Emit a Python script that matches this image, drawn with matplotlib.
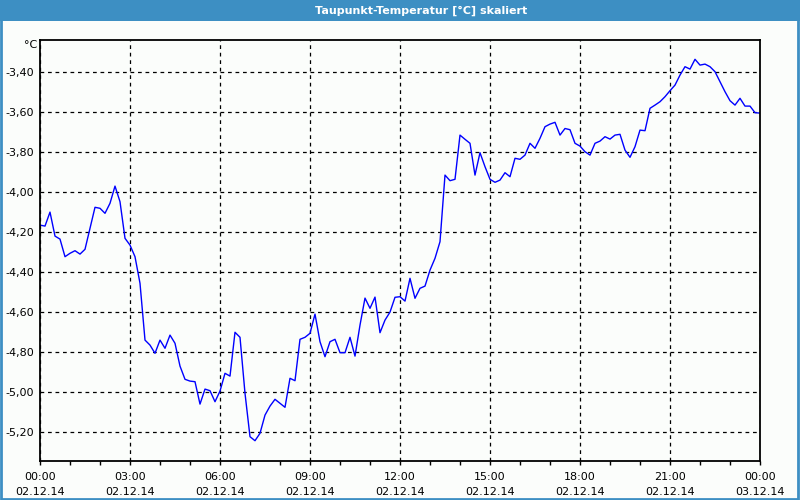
import numpy as np
import pandas as pd
import matplotlib
matplotlib.use("Agg")
from matplotlib import pyplot as plt
import matplotlib.dates as mdates
from matplotlib.ticker import FuncFormatter, MultipleLocator
from matplotlib.patches import Rectangle

# Taupunkt in 10-Minuten-Schritten, 02.12.14 00:00 .. 03.12.14 00:00
dewpoint = [
    -4.164, -4.169, -4.099, -4.219, -4.234, -4.322, -4.305, -4.292, -4.309, -4.285,
    -4.180, -4.075, -4.080, -4.105, -4.055, -3.969, -4.047, -4.230, -4.264, -4.322,
    -4.455, -4.739, -4.764, -4.805, -4.739, -4.780, -4.714, -4.755, -4.869, -4.935,
    -4.944, -4.947, -5.059, -4.984, -4.992, -5.047, -4.994, -4.905, -4.919, -4.700,
    -4.725, -5.005, -5.222, -5.242, -5.205, -5.114, -5.069, -5.035, -5.055, -5.075,
    -4.930, -4.942, -4.735, -4.725, -4.705, -4.609, -4.747, -4.822, -4.747, -4.735,
    -4.802, -4.802, -4.725, -4.819, -4.664, -4.529, -4.580, -4.524, -4.702, -4.639,
    -4.599, -4.525, -4.522, -4.544, -4.430, -4.530, -4.480, -4.469, -4.389, -4.330,
    -4.247, -3.914, -3.942, -3.935, -3.714, -3.735, -3.755, -3.914, -3.802, -3.872,
    -3.935, -3.950, -3.939, -3.902, -3.922, -3.830, -3.835, -3.814, -3.755, -3.780,
    -3.730, -3.672, -3.659, -3.650, -3.714, -3.681, -3.687, -3.755, -3.769, -3.797,
    -3.814, -3.755, -3.744, -3.722, -3.734, -3.714, -3.710, -3.789, -3.825, -3.772,
    -3.689, -3.692, -3.580, -3.564, -3.547, -3.522, -3.492, -3.464, -3.414, -3.372,
    -3.384, -3.335, -3.364, -3.359, -3.372, -3.397, -3.447, -3.497, -3.542, -3.564,
    -3.530, -3.569, -3.569, -3.602, -3.604,
]
start = "2014-12-02 00:00"
end = "2014-12-03 00:00"
y_ticks = [-5.2, -5.0, -4.8, -4.6, -4.4, -4.2, -4.0, -3.8, -3.6, -3.4]
title = "Taupunkt-Temperatur [°C] skaliert"
unit = "°C"

times = pd.date_range(start, periods=len(dewpoint), freq="10min")

bg = "#fbfdfb"
frame_blue = "#3d8fc3"

fig = plt.figure(figsize=(8, 5), dpi=100, facecolor=bg)
ax = fig.add_axes([0.05, 0.0786, 0.90, 0.8414])
ax.set_facecolor(bg)

ax.plot(times, dewpoint, color="#0000ff", lw=1.0)

ax.set_xlim(pd.Timestamp(start), pd.Timestamp(end))
ax.set_ylim(-5.342, -3.2385)

ax.xaxis.set_major_locator(mdates.HourLocator(byhour=range(0, 24, 3)))
ax.xaxis.set_minor_locator(mdates.HourLocator())
ax.xaxis.set_major_formatter(mdates.DateFormatter("%H:%M\n%d.%m.%y"))
ax.set_yticks(y_ticks)
ax.yaxis.set_major_formatter(FuncFormatter(lambda v, p: f"{v:.2f}".replace(".", ",")))

ax.grid(True, which="major", color="black", linestyle=(0, (3, 3)), lw=0.9)
ax.tick_params(axis="x", which="both", direction="out", length=3, width=1,
               labelsize=8, pad=5)
ax.tick_params(axis="y", which="both", length=0, labelsize=8, pad=4)
for lbl in ax.get_xticklabels():
    lbl.set_linespacing(1.6)
for s in ax.spines.values():
    s.set_color("black")
    s.set_linewidth(1.3)

ax.text(-0.004, 1.0, unit, transform=ax.transAxes, ha="right", va="top", fontsize=8)

# window frame with title bar
fig.patches.append(Rectangle((0, 0.958), 1, 0.042, transform=fig.transFigure,
                             facecolor=frame_blue, edgecolor="none", zorder=0))
fig.patches.append(Rectangle((0.0015, 0.003), 0.9965, 0.96, transform=fig.transFigure,
                             facecolor="none", edgecolor=frame_blue, lw=2, zorder=0))
fig.text(0.527, 0.979, title, color="white", fontsize=8, fontweight="bold",
         ha="center", va="center")

fig.savefig("out.png", dpi=100, facecolor=bg)
